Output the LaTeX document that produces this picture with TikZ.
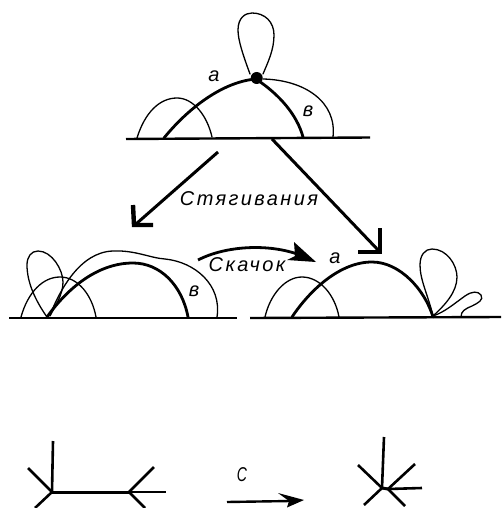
\documentclass[tikz,border=0pt]{standalone}
\usepackage{fontspec}
\setmainfont{Liberation Sans}
\tikzset{
  thinline/.style={line width=1.3pt,line cap=round,line join=round},
  thickline/.style={line width=2.8pt,line cap=round,line join=round},
  base/.style={line width=2.4pt},
  bigarrow/.style={line width=3pt},
  headl/.style={line width=4.4pt,line cap=butt,line join=miter},
  label/.style={font=\fontsize{20}{20}\selectfont\itshape\addfontfeature{LetterSpace=12},inner sep=0pt},
  spoke/.style={line width=2.6pt,line cap=butt},
}
\begin{document}
\begin{tikzpicture}[x=1pt,y=-1pt]
\useasboundingbox (0,0) rectangle (501,508);
% top figure
\draw[base] (126,139) -- (370,137.5);
\draw[thinline] (137,138) .. controls (145,112) and (160,98) .. (177,98) .. controls (193,98) and (207,115) .. (212,137);
\draw[thickline] (164,138) .. controls (185,112) and (220,82) .. (256,79);
\draw[thickline] (256,79) .. controls (280,95) and (297,115) .. (303,137);
\draw[thinline] (263,79) .. controls (305,80) and (337,102) .. (333,137);
\draw[thinline] (250,74) .. controls (243,55) and (238,40) .. (238,30) .. controls (238,18) and (245,13) .. (252,13) .. controls (265,13) and (274,22) .. (274,35) .. controls (274,50) and (268,62) .. (263,74);
\fill (256.7,78) circle (6pt);
\node[label] (a1) at (214,76) {a};
\node[label] (b1) at (308,111) {в};
% contraction arrows
\coordinate (s1) at (218,152);
\coordinate (t1) at (136,224);
\coordinate (s2) at (272,139);
\coordinate (t2) at (379,251);
\draw[bigarrow] (s1) -- (t1);
\draw[headl] (133,205) -- (134,225) -- (153,225);
\draw[bigarrow] (s2) -- (t2);
\draw[headl] (380,228) -- (380,252) -- (358,252);
\node[label] (st) at (249,199) {Стягивания};
% left figure
\draw[base] (9,318) -- (237,318);
\draw[thinline] (21,317) .. controls (28,292) and (43,277) .. (60,277) .. controls (78,277) and (92,295) .. (96,317);
\draw[thinline] (47,317) .. controls (35,300) and (27,282) .. (27,265) .. controls (27,257) and (31,251) .. (38,251) .. controls (52,251) and (63,270) .. (63,282) .. controls (63,295) and (55,306) .. (50,316);
\draw[thinline] (50,315) .. controls (60,290) and (80,252) .. (113,251) .. controls (135,250) and (150,258) .. (165,259) .. controls (195,262) and (222,285) .. (217,317);
\draw[thickline] (47,317) .. controls (70,285) and (100,263) .. (133,263) .. controls (160,263) and (182,285) .. (188,317);
\node[label] (b2) at (194,291) {в};
% jump arrow
\coordinate (j1) at (198,260);
\coordinate (j2) at (300,255);
\draw[line width=2.8pt] (j1) .. controls (225,246) and (268,243) .. (j2);
\fill (294,242) -- (316,262) -- (287,260) -- (295,256) -- cycle;
\node[label] (sk) at (247,265) {Скачок};
\node[label] (a2) at (335,258) {a};
% right figure
\draw[base] (250,318) -- (501,317);
\draw[thinline] (265,317) .. controls (270,295) and (285,277) .. (302,277) .. controls (320,277) and (335,295) .. (339,317);
\draw[thickline] (292,317) .. controls (310,290) and (340,262) .. (372,262) .. controls (400,262) and (425,290) .. (433,317);
\draw[thinline] (433,316) .. controls (428,295) and (420,280) .. (420,265) .. controls (420,255) and (425,249) .. (432,249) .. controls (447,249) and (457,265) .. (457,277) .. controls (457,292) and (445,305) .. (433,316);
\draw[thinline] (433,316) .. controls (445,312) and (455,303) .. (465,296) .. controls (472,291) and (478,291) .. (481,295) .. controls (484,300) and (478,303) .. (472,306) .. controls (465,309) and (461,311) .. (461,317);
% bottom left graph
\coordinate (u) at (52,492);
\coordinate (v) at (129,492);
\coordinate (u1) at (53,441);
\coordinate (u2) at (28,468);
\coordinate (u3) at (35,508);
\coordinate (v1) at (154,467);
\coordinate (v2) at (166,492);
\coordinate (v3) at (145,508);
\draw[spoke] (u) -- (u1);
\draw[spoke] (u) -- (u2);
\draw[spoke] (u) -- (u3);
\draw[line width=3pt] (u) -- (v);
\draw[spoke] (v) -- (v1);
\draw[spoke] (v) -- (v2);
\draw[spoke] (v) -- (v3);
% contraction c
\node[label,xscale=0.7,transform shape] (c) at (242,475) {C};
\coordinate (c1) at (227,502);
\coordinate (c2) at (290,501);
\draw[line width=2.4pt] (c1) -- (c2);
\fill (278,493) -- (304,500) -- (287,507.5) -- (289,501) -- cycle;
% bottom right graph
\coordinate (w) at (382,488);
\coordinate (w1) at (384,437);
\coordinate (w2) at (358,465);
\coordinate (w3) at (364,505);
\coordinate (x0) at (388,489);
\coordinate (w4) at (415,464);
\coordinate (w5) at (422,488);
\coordinate (w6) at (405,506);
\draw[spoke] (w) -- (w1);
\draw[spoke] (w) -- (w2);
\draw[spoke] (w) -- (w3);
\draw[line width=3pt] (w) -- (x0);
\draw[spoke] (x0) -- (w4);
\draw[spoke] (x0) -- (w5);
\draw[spoke] (x0) -- (w6);
\end{tikzpicture}
\end{document}
